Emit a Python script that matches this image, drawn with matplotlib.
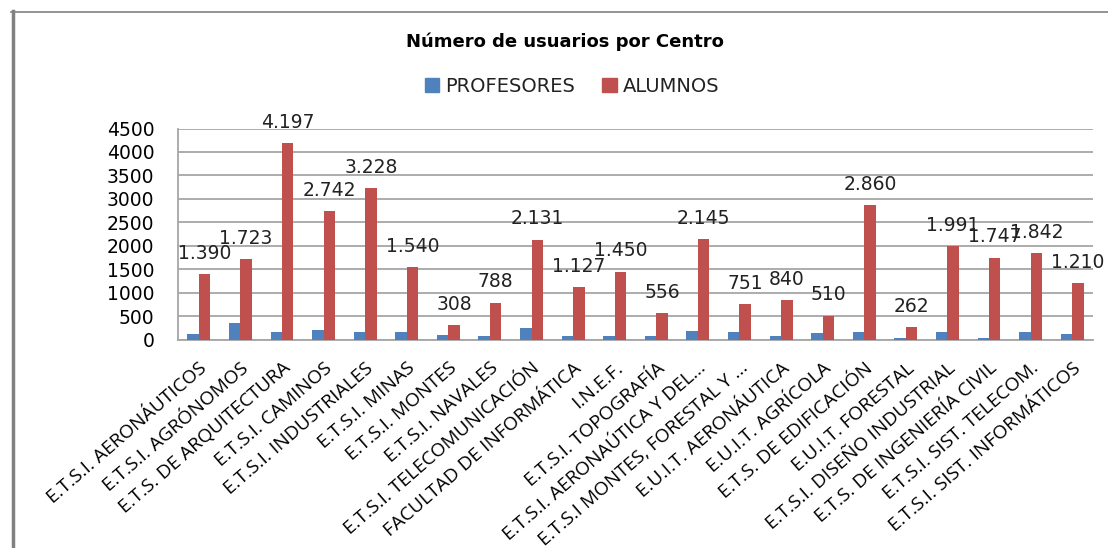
import matplotlib
matplotlib.use("Agg")
import matplotlib.pyplot as plt
import numpy as np
from matplotlib.lines import Line2D

categories = [
    "E.T.S.I. AERONÁUTICOS", "E.T.S.I. AGRÓNOMOS", "E.T.S. DE ARQUITECTURA",
    "E.T.S.I. CAMINOS", "E.T.S.I. INDUSTRIALES", "E.T.S.I. MINAS",
    "E.T.S.I. MONTES", "E.T.S.I. NAVALES", "E.T.S.I. TELECOMUNICACIÓN",
    "FACULTAD DE INFORMÁTICA", "I.N.E.F.", "E.T.S.I. TOPOGRAFÍA",
    "E.T.S.I. AERONAÚTICA Y DEL...", "E.T.S.I MONTES, FORESTAL Y ...",
    "E.U.I.T. AERONÁUTICA", "E.U.I.T. AGRÍCOLA", "E.T.S. DE EDIFICACIÓN",
    "E.U.I.T. FORESTAL", "E.T.S.I. DISEÑO INDUSTRIAL",
    "E.T.S. DE INGENIERÍA CIVIL", "E.T.S.I. SIST. TELECOM.",
    "E.T.S.I. SIST. INFORMÁTICOS",
]
profesores = [107, 352, 166, 210, 150, 150, 86, 64, 250, 64, 64, 64,
              188, 150, 64, 129, 150, 29, 150, 29, 166, 107]
alumnos = [1390, 1723, 4197, 2742, 3228, 1540, 308, 788, 2131, 1127, 1450,
           556, 2145, 751, 840, 510, 2860, 262, 1991, 1747, 1842, 1210]
yticks = [0, 500, 1000, 1500, 2000, 2500, 3000, 3500, 4000, 4500]

W, H = 1108, 548
fig = plt.figure(figsize=(W / 100, H / 100), dpi=100)
ax = fig.add_axes([178 / W, 1 - 339.5 / H, (1093 - 178) / W, (339.5 - 128.5) / H])

x = np.arange(len(categories))
bw = 0.275
blue = "#4F81BD"
red = "#C0504D"
ax.bar(x - bw / 2, profesores, bw, color=blue, label="PROFESORES", zorder=3)
ax.bar(x + bw / 2, alumnos, bw, color=red, label="ALUMNOS", zorder=3)

for xi, v in zip(x, alumnos):
    lbl = f"{v:,}".replace(",", ".")
    ax.annotate(lbl, (xi + bw / 2, v), xytext=(0, 8), textcoords="offset points",
                ha="center", va="bottom", fontsize=13.5, color="#222222",
                family="DejaVu Sans", zorder=4)

ax.set_xlim(-0.5, len(categories) - 0.5)
ax.set_ylim(0, 4500)
ax.set_yticks(yticks)
ax.set_yticklabels([str(t) for t in yticks], fontsize=13.5, family="DejaVu Sans")
ax.tick_params(axis="y", length=0, pad=17)
ax.set_xticks(x)
ax.set_xticklabels(categories, rotation=41, ha="right", rotation_mode="anchor",
                   fontsize=13.8, family="Open Sans")
ax.tick_params(axis="x", length=0, pad=14)
ax.yaxis.grid(True, color="#A6A6A6", linewidth=1.3, zorder=0)
ax.set_axisbelow(True)
for s in ["top", "right"]:
    ax.spines[s].set_visible(False)
for s in ["left", "bottom"]:
    ax.spines[s].set_color("#A6A6A6")
    ax.spines[s].set_linewidth(1.3)

fig.text(565 / W, 1 - 42 / H, "Número de usuarios por Centro", ha="center", va="center",
         fontsize=13, fontweight="bold", family="DejaVu Sans")

leg = fig.legend(handles=[
    plt.Rectangle((0, 0), 1, 1, color=blue), plt.Rectangle((0, 0), 1, 1, color=red)],
    labels=["PROFESORES", "ALUMNOS"], loc="center", bbox_to_anchor=(572 / W, 1 - 86 / H),
    ncol=2, frameon=False, handlelength=0.75, handleheight=0.75,
    handletextpad=0.3, columnspacing=1.4, prop={"family": "DejaVu Sans", "size": 14})
for t in leg.get_texts():
    t.set_color("#222222")

# outer frame lines (left and top)
fig.add_artist(Line2D([12.5 / W, 12.5 / W], [0, 1 - 11 / H], transform=fig.transFigure,
                      color="#808080", linewidth=2.5))
fig.add_artist(Line2D([11 / W, 1], [1 - 11.5 / H, 1 - 11.5 / H], transform=fig.transFigure,
                      color="#808080", linewidth=1.2))

fig.savefig("out.png", dpi=100)
